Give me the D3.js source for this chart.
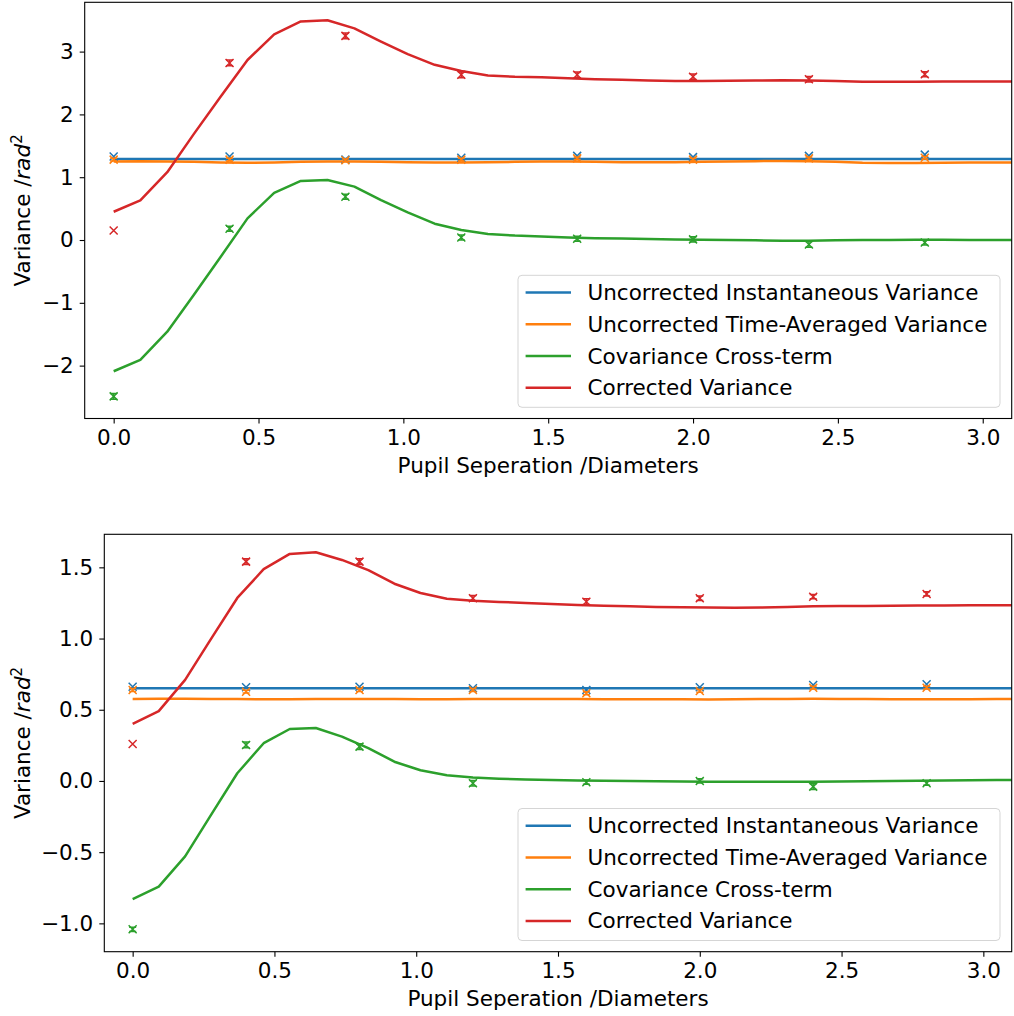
<!DOCTYPE html>
<html><head><meta charset="utf-8">
<script src="https://cdn.jsdelivr.net/npm/d3@7"></script>
<style>body{margin:0;background:#fff}svg{display:block;font-family:"DejaVu Sans",sans-serif}</style>
</head><body><svg id="c" width="1014" height="1016"></svg>
<script>
// ---- data ----
const seriesNames = ["Uncorrected Instantaneous Variance","Uncorrected Time-Averaged Variance","Covariance Cross-term","Corrected Variance"];
const colors = ["#1f77b4","#ff7f0e","#2ca02c","#d62728"];
const lineX = [0,0.092,0.185,0.277,0.369,0.462,0.554,0.646,0.738,0.831,0.923,1.015,1.108,1.2,1.292,1.385,1.477,1.569,1.662,1.754,1.846,1.938,2.031,2.123,2.215,2.308,2.4,2.492,2.585,2.677,2.769,2.862,2.954,3.046,3.138];
const markerX = [0,0.4,0.8,1.2,1.6,2.0,2.4,2.8];

// top panel lines
const topBlue = [1.29,1.29,1.29,1.29,1.29,1.29,1.29,1.29,1.29,1.29,1.29,1.29,1.29,1.29,1.29,1.29,1.29,1.29,1.29,1.29,1.29,1.29,1.29,1.29,1.29,1.29,1.29,1.29,1.29,1.29,1.29,1.29,1.29,1.29,1.29];
const topOrange = [1.25,1.255,1.25,1.245,1.235,1.23,1.235,1.245,1.25,1.25,1.245,1.24,1.235,1.235,1.24,1.245,1.25,1.25,1.245,1.24,1.24,1.24,1.245,1.25,1.255,1.26,1.255,1.245,1.23,1.225,1.225,1.23,1.235,1.235,1.235];
const topGreen = [-2.09,-1.91,-1.46,-0.87,-0.27,0.345,0.75,0.94,0.955,0.85,0.635,0.44,0.26,0.16,0.095,0.07,0.055,0.04,0.03,0.025,0.015,0.01,0.005,0.0,-0.005,-0.01,-0.01,-0.005,0.0,0.0,0.005,0.005,0.0,0.0,0.0];
const topRed = [0.45,0.63,1.08,1.69,2.28,2.866,3.275,3.48,3.5,3.37,3.16,2.96,2.79,2.69,2.62,2.6,2.59,2.575,2.56,2.55,2.54,2.53,2.53,2.535,2.54,2.545,2.54,2.53,2.52,2.52,2.52,2.525,2.525,2.525,2.525];
// top panel measured points and error sizes
const topBlueMk = [1.33,1.33,1.28,1.31,1.34,1.32,1.34,1.36];
const topOrangeMk = [1.28,1.28,1.27,1.28,1.30,1.28,1.30,1.31];
const topGreenMk = [-2.49,0.18,0.69,0.04,0.02,0.01,-0.07,-0.04];
const topRedMk = [0.15,2.82,3.25,2.63,2.63,2.6,2.56,2.64];
const topBlueErr = [0.0,0.0,0.0,0.0,0.0,0.0,0.0,0.0];
const topOrangeErr = [0.02,0.02,0.02,0.02,0.02,0.02,0.02,0.02];
const topGreenErr = [0.045,0.04,0.04,0.04,0.04,0.04,0.045,0.04];
const topRedErr = [0.0,0.045,0.045,0.045,0.045,0.045,0.045,0.04];

// bottom panel lines
const botBlue = [0.651,0.651,0.651,0.651,0.651,0.651,0.651,0.651,0.651,0.651,0.651,0.651,0.651,0.651,0.651,0.651,0.651,0.651,0.651,0.651,0.651,0.651,0.651,0.651,0.651,0.651,0.651,0.651,0.651,0.651,0.651,0.651,0.651,0.651,0.651];
const botOrange = [0.576,0.577,0.577,0.576,0.575,0.574,0.574,0.575,0.576,0.576,0.575,0.574,0.574,0.575,0.576,0.576,0.576,0.575,0.574,0.574,0.574,0.573,0.572,0.573,0.575,0.576,0.577,0.576,0.575,0.574,0.573,0.573,0.574,0.575,0.575];
const botGreen = [-0.829,-0.742,-0.53,-0.236,0.054,0.265,0.365,0.372,0.311,0.23,0.135,0.075,0.04,0.025,0.016,0.01,0.006,0.003,0.002,0.0,-0.002,-0.004,-0.005,-0.005,-0.005,-0.005,-0.005,-0.004,-0.002,0.0,0.002,0.004,0.005,0.006,0.007];
const botRed = [0.40,0.49,0.71,1.0,1.285,1.487,1.594,1.606,1.552,1.48,1.385,1.32,1.28,1.266,1.257,1.25,1.243,1.236,1.231,1.227,1.222,1.22,1.218,1.217,1.218,1.222,1.227,1.229,1.229,1.23,1.232,1.232,1.233,1.234,1.234];
const botBlueMk = [0.662,0.658,0.662,0.651,0.639,0.658,0.674,0.679];
const botOrangeMk = [0.639,0.627,0.639,0.639,0.616,0.632,0.655,0.655];
const botGreenMk = [-1.042,0.253,0.241,-0.016,-0.009,0.0,-0.04,-0.016];
const botRedMk = [0.26,1.54,1.54,1.283,1.259,1.283,1.294,1.313];
const botBlueErr = [0.0,0.0,0.0,0.0,0.0,0.0,0.0,0.0];
const botOrangeErr = [0.01,0.01,0.01,0.01,0.01,0.01,0.01,0.01];
const botGreenErr = [0.015,0.02,0.02,0.02,0.015,0.015,0.02,0.015];
const botRedErr = [0.0,0.02,0.02,0.02,0.02,0.015,0.015,0.015];

const xTicks = [0,0.5,1.0,1.5,2.0,2.5,3.0];
const topYTicks = [-2,-1,0,1,2,3];
const botYTicks = [-1.0,-0.5,0.0,0.5,1.0,1.5];
const xLabel = "Pupil Seperation /Diameters";

// ---- drawing ----
const svg = d3.select("#c");
const FS = 21.5;

function panel(cfg, id){
  const x = d3.scaleLinear().domain([-0.1,3.1]).range([cfg.left,cfg.right]);
  const y = d3.scaleLinear().domain(cfg.yDomain).range([cfg.bottom,cfg.top]);
  const g = svg.append("g");
  g.append("clipPath").attr("id","clip"+id).append("rect")
    .attr("x",cfg.left).attr("y",cfg.top).attr("width",cfg.right-cfg.left).attr("height",cfg.bottom-cfg.top);
  const plot = g.append("g").attr("clip-path",`url(#clip${id})`);
  const line = d3.line().x((d,i)=>x(lineX[i])).y(d=>y(d));
  cfg.lines.forEach((vals,k)=>{
    plot.append("path").attr("d",line(vals)).attr("fill","none")
      .attr("stroke",colors[k]).attr("stroke-width",2.5).attr("stroke-linejoin","round");
  });
  cfg.marks.forEach((vals,k)=>{
    const errs = cfg.errs[k];
    vals.forEach((v,i)=>{
      const px = x(markerX[i]), py = y(v);
      const e = errs[i];
      const mg = plot.append("g").attr("stroke",colors[k]).attr("stroke-width",1.5).attr("fill","none");
      if(e>0){
        const y1 = y(v+e), y2 = y(v-e);
        mg.append("line").attr("x1",px).attr("x2",px).attr("y1",y1).attr("y2",y2);
        mg.append("line").attr("x1",px-3.5).attr("x2",px+3.5).attr("y1",y1).attr("y2",y1);
        mg.append("line").attr("x1",px-3.5).attr("x2",px+3.5).attr("y1",y2).attr("y2",y2);
      }
      const s = 4;
      mg.append("path").attr("d",`M${px-s},${py-s}L${px+s},${py+s}M${px-s},${py+s}L${px+s},${py-s}`);
    });
  });
  // axes
  const xa = g.append("g").attr("transform",`translate(0,${cfg.bottom})`)
    .call(d3.axisBottom(x).tickValues(xTicks).tickFormat(d3.format(".1f")).tickSize(5).tickPadding(6));
  const ya = g.append("g").attr("transform",`translate(${cfg.left},0)`)
    .call(d3.axisLeft(y).tickValues(cfg.yTicks).tickFormat(cfg.fmt).tickSize(5).tickPadding(6));
  [xa,ya].forEach(a=>{
    a.select(".domain").remove();
    a.selectAll("text").attr("font-size",FS).attr("font-family","DejaVu Sans").attr("fill","#000");
    a.selectAll("line").attr("stroke","#000").attr("stroke-width",1.1);
  });
  g.append("rect").attr("x",cfg.left).attr("y",cfg.top).attr("width",cfg.right-cfg.left)
    .attr("height",cfg.bottom-cfg.top).attr("fill","none").attr("stroke","#000").attr("stroke-width",1.1);
  // labels
  g.append("text").attr("x",(cfg.left+cfg.right)/2).attr("y",cfg.bottom+54).attr("text-anchor","middle")
    .attr("font-size",FS).text(xLabel);
  const cy = (cfg.top+cfg.bottom)/2;
  const yl = g.append("text").attr("transform",`translate(30,${cy}) rotate(-90)`).attr("text-anchor","middle").attr("font-size",FS);
  yl.append("tspan").text("Variance /");
  yl.append("tspan").attr("font-style","italic").text("rad");
  yl.append("tspan").attr("font-size",15).attr("dy",-8).text("2");
  // legend
  const lw = 482, lh = 132;
  const lx = cfg.right - 11.7 - lw, ly = cfg.bottom - 11.2 - lh;
  const lg = g.append("g");
  lg.append("rect").attr("x",lx).attr("y",ly).attr("width",lw).attr("height",lh).attr("rx",4)
    .attr("fill","#fff").attr("fill-opacity",0.8).attr("stroke","#d5d5d5").attr("stroke-width",1);
  seriesNames.forEach((n,k)=>{
    const ry = ly + 17.3 + k*31.7;
    lg.append("line").attr("x1",lx+7.6).attr("x2",lx+53).attr("y1",ry).attr("y2",ry)
      .attr("stroke",colors[k]).attr("stroke-width",2.5);
    lg.append("text").attr("x",lx+69.5).attr("y",ry+7.5).attr("font-size",FS).attr("fill","#000").text(n);
  });
}

panel({left:84.7,right:1011.7,top:2.3,bottom:418.5,yDomain:[-2.842,3.785],yTicks:topYTicks,fmt:d3.format("d"),
  lines:[topBlue,topOrange,topGreen,topRed],marks:[topBlueMk,topOrangeMk,topGreenMk,topRedMk],
  errs:[topBlueErr,topOrangeErr,topGreenErr,topRedErr]},0);
panel({left:104.3,right:1011.7,top:534.3,bottom:951.7,yDomain:[-1.199,1.732],yTicks:botYTicks,fmt:d3.format(".1f"),
  lines:[botBlue,botOrange,botGreen,botRed],marks:[botBlueMk,botOrangeMk,botGreenMk,botRedMk],
  errs:[botBlueErr,botOrangeErr,botGreenErr,botRedErr]},1);
</script></body></html>
